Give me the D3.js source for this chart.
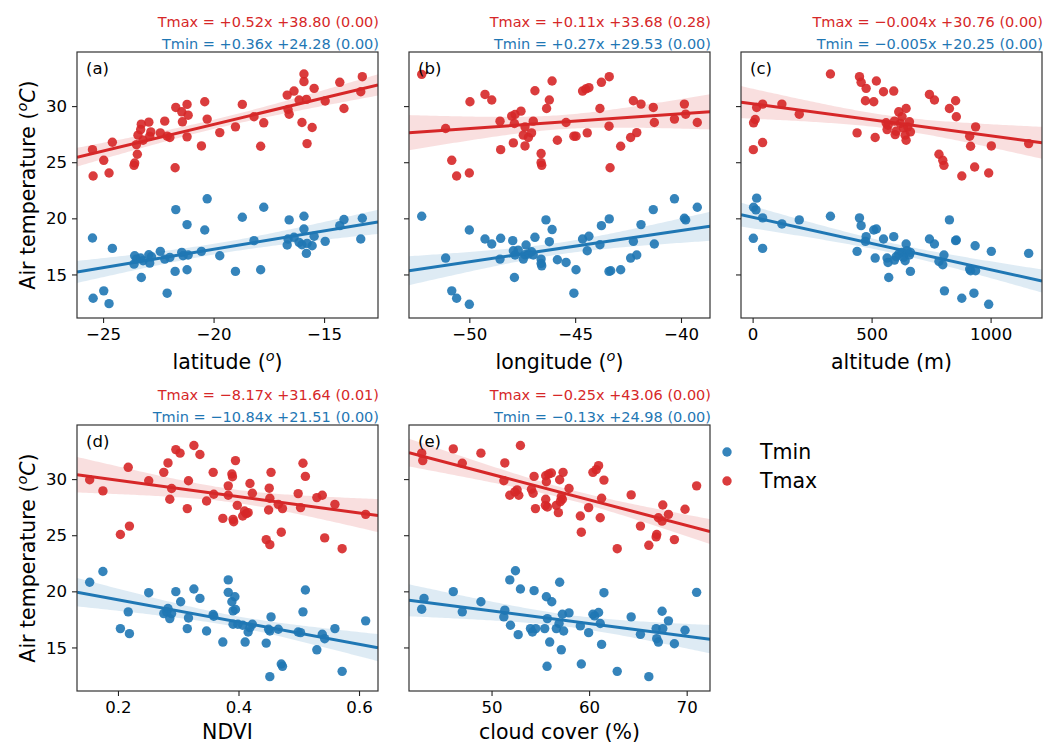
<!DOCTYPE html>
<html><head><meta charset="utf-8">
<script src="https://cdn.jsdelivr.net/npm/d3@7"></script>
<style>body{margin:0;background:#fff}svg{display:block}text{font-family:"DejaVu Sans",sans-serif}</style>
</head><body><svg id="c" width="1043" height="744"></svg>
<script>
// ---------- data: [x, temperature] ----------
const latTmax = [[-25.48,26.12],[-25.45,23.77],[-24.97,25.17],[-24.73,24.04],[-24.58,26.78],[-23.60,24.72],[-23.57,24.93],[-23.45,25.71],[-23.49,26.57],[-23.42,27.41],[-23.30,27.91],[-23.27,28.39],[-23.19,26.96],[-22.93,28.57],[-22.89,27.32],[-22.84,27.70],[-22.41,27.61],[-22.21,28.66],[-22.10,27.32],[-21.98,27.20],[-21.74,24.51],[-21.71,29.88],[-21.44,29.49],[-21.41,28.60],[-21.20,30.15],[-21.15,29.19],[-21.20,27.26],[-20.55,26.45],[-20.40,30.39],[-20.29,28.84],[-19.72,27.64],[-19.01,28.15],[-18.70,30.15],[-18.17,29.05],[-17.87,26.42],[-17.73,28.51],[-16.67,30.98],[-16.63,29.70],[-16.58,29.28],[-16.36,31.34],[-16.13,30.54],[-16.00,28.54],[-15.91,32.86],[-15.91,32.18],[-15.80,30.60],[-15.77,26.66],[-15.54,28.09],[-15.45,31.58],[-14.95,30.45],[-14.29,32.12],[-14.10,29.79],[-13.34,31.28],[-13.27,32.62]];
const latTmin = [[-25.48,18.25],[-25.45,12.88],[-24.97,13.54],[-24.73,12.40],[-24.58,17.32],[-23.60,15.92],[-23.57,16.67],[-23.49,16.37],[-23.27,14.73],[-23.31,16.46],[-23.19,16.22],[-22.93,16.76],[-22.89,16.01],[-22.81,16.58],[-22.41,17.06],[-22.21,16.37],[-22.10,13.33],[-21.98,16.52],[-21.74,15.27],[-21.71,20.78],[-21.44,16.97],[-21.38,16.67],[-21.20,19.44],[-21.15,16.73],[-21.20,15.42],[-20.55,17.06],[-20.40,18.96],[-20.29,21.74],[-19.72,16.67],[-19.01,15.27],[-18.70,20.10],[-18.17,18.01],[-17.87,15.42],[-17.73,20.99],[-16.67,17.62],[-16.63,18.16],[-16.58,19.86],[-16.36,18.31],[-16.13,17.86],[-16.00,17.65],[-15.91,20.19],[-15.91,19.05],[-15.80,16.88],[-15.77,17.77],[-15.54,17.56],[-15.45,18.40],[-14.95,17.95],[-14.29,19.35],[-14.10,19.89],[-13.34,18.16],[-13.27,20.01]];
const lonTmax = [[-52.25,32.83],[-51.12,28.00],[-50.83,25.17],[-50.60,23.77],[-50.00,24.04],[-49.97,30.39],[-49.26,31.04],[-48.94,30.54],[-48.55,28.66],[-48.52,26.12],[-48.00,29.11],[-47.92,26.72],[-47.84,29.25],[-47.87,28.45],[-47.56,29.55],[-47.37,28.15],[-47.37,26.45],[-47.45,27.41],[-47.21,27.20],[-47.06,27.61],[-46.98,28.66],[-46.90,31.37],[-46.61,25.77],[-46.61,24.96],[-46.58,24.72],[-46.35,29.79],[-46.22,30.54],[-46.09,32.24],[-45.84,26.96],[-45.43,28.54],[-45.06,27.32],[-44.96,27.32],[-44.43,27.61],[-44.65,31.34],[-44.50,31.52],[-44.35,31.64],[-43.83,29.79],[-43.76,32.12],[-43.40,28.21],[-43.39,32.62],[-43.35,24.51],[-42.85,26.42],[-42.38,27.20],[-42.25,30.48],[-42.09,27.64],[-41.89,30.18],[-41.31,29.88],[-41.26,28.54],[-40.31,28.84],[-39.84,30.18],[-39.78,29.28],[-39.23,28.54]];
const lonTmin = [[-52.25,20.19],[-51.12,16.46],[-50.83,13.54],[-50.60,12.88],[-50.00,18.96],[-50.00,12.34],[-49.26,18.16],[-48.94,17.71],[-48.55,16.37],[-48.52,18.22],[-47.95,18.01],[-47.87,14.73],[-47.92,17.11],[-47.84,16.73],[-47.69,17.17],[-47.45,16.37],[-47.37,16.76],[-47.32,17.62],[-47.21,16.82],[-47.06,17.02],[-46.98,16.73],[-46.90,18.31],[-46.61,16.37],[-46.61,15.98],[-46.58,15.77],[-46.38,19.86],[-46.22,17.92],[-46.09,19.00],[-45.84,16.31],[-45.43,16.07],[-44.96,15.42],[-45.06,13.33],[-44.65,18.16],[-44.43,17.11],[-44.35,18.40],[-43.83,17.65],[-43.76,19.35],[-43.40,15.27],[-43.32,15.33],[-43.39,19.95],[-42.85,15.42],[-42.38,16.46],[-42.25,17.95],[-42.09,16.73],[-41.89,19.44],[-41.31,20.78],[-41.26,17.71],[-40.31,21.74],[-39.84,20.01],[-39.78,19.86],[-39.23,20.99]];
const altTmax = [[3,26.12],[4,28.51],[11,28.81],[17,29.88],[42,30.18],[42,26.75],[123,30.18],[196,29.28],[327,32.86],[439,27.61],[449,32.62],[456,32.12],[477,31.58],[474,30.48],[509,30.39],[515,27.20],[520,32.24],[550,31.28],[561,28.51],[565,27.91],[569,28.30],[593,31.34],[596,28.66],[599,27.46],[603,27.76],[614,29.49],[621,28.45],[628,29.05],[634,28.06],[641,27.41],[645,26.96],[645,29.79],[652,28.15],[659,28.60],[663,27.70],[743,31.04],[764,30.54],[783,25.71],[799,25.17],[804,24.72],[827,29.79],[853,30.48],[856,29.05],[879,23.77],[912,27.32],[916,26.42],[933,24.57],[937,28.15],[992,24.04],[1003,26.45],[1160,26.66]];
const altTmin = [[3,18.22],[4,20.99],[17,21.80],[14,20.75],[42,20.04],[42,17.32],[123,19.50],[196,19.86],[327,20.19],[439,17.06],[449,20.04],[456,19.35],[477,18.37],[474,17.95],[509,18.96],[515,16.46],[520,19.05],[550,18.16],[565,16.46],[569,16.07],[572,14.73],[593,18.37],[596,16.28],[603,16.58],[614,16.82],[628,16.97],[634,16.52],[641,16.22],[645,17.71],[649,17.11],[659,16.73],[663,16.97],[663,15.27],[743,18.16],[764,17.71],[783,16.16],[799,15.86],[804,16.73],[806,13.54],[827,19.86],[853,18.01],[856,18.07],[879,12.88],[912,15.48],[916,15.33],[930,13.33],[935,17.56],[937,15.33],[992,12.34],[1003,17.06],[1160,16.88]];
const ndviTmax = [[0.153,29.94],[0.175,28.95],[0.204,25.06],[0.219,25.81],[0.217,31.05],[0.251,29.85],[0.276,30.60],[0.283,31.44],[0.286,28.20],[0.289,29.16],[0.296,32.63],[0.303,32.31],[0.315,27.37],[0.317,29.85],[0.326,32.99],[0.336,32.19],[0.347,28.05],[0.358,30.60],[0.359,28.65],[0.374,26.50],[0.383,29.40],[0.383,28.56],[0.389,30.45],[0.390,30.21],[0.391,26.41],[0.392,26.20],[0.395,31.65],[0.398,27.66],[0.407,26.71],[0.410,27.16],[0.413,26.92],[0.416,27.01],[0.419,29.61],[0.423,28.74],[0.446,24.61],[0.450,27.25],[0.452,24.16],[0.451,29.19],[0.452,28.29],[0.454,30.60],[0.466,27.75],[0.471,25.27],[0.473,27.37],[0.499,28.71],[0.503,27.46],[0.507,31.41],[0.511,30.24],[0.530,28.35],[0.539,28.56],[0.543,24.76],[0.560,27.75],[0.572,23.80],[0.611,26.86]];
const ndviTmin = [[0.153,20.81],[0.175,21.77],[0.204,16.68],[0.217,18.17],[0.219,16.23],[0.251,19.88],[0.276,18.02],[0.281,18.17],[0.283,18.47],[0.286,17.57],[0.289,18.02],[0.296,19.97],[0.304,19.07],[0.315,16.68],[0.317,17.63],[0.326,20.21],[0.336,19.37],[0.347,16.47],[0.358,17.93],[0.359,17.78],[0.374,15.48],[0.383,21.02],[0.383,19.91],[0.389,19.07],[0.391,18.26],[0.391,17.07],[0.394,19.52],[0.395,18.38],[0.399,17.07],[0.407,16.98],[0.411,15.48],[0.416,16.38],[0.419,16.77],[0.423,17.07],[0.446,15.39],[0.450,16.62],[0.452,16.47],[0.452,12.40],[0.454,17.72],[0.466,16.62],[0.471,13.53],[0.473,13.32],[0.499,16.38],[0.503,16.32],[0.507,18.17],[0.511,20.12],[0.530,14.79],[0.539,16.17],[0.543,15.78],[0.560,16.68],[0.572,12.87],[0.611,17.37]];
const cloudTmax = [[42.84,32.31],[42.95,31.65],[46.08,32.69],[47.00,31.41],[48.91,32.31],[51.26,29.85],[51.36,31.44],[51.87,28.56],[52.39,28.86],[52.62,29.04],[52.79,28.56],[52.96,32.99],[54.09,29.10],[54.26,28.74],[54.36,30.24],[54.50,27.37],[55.52,27.66],[55.55,30.30],[55.55,28.20],[55.62,29.76],[55.72,27.51],[55.86,30.45],[56.13,30.54],[56.64,27.66],[56.85,27.01],[56.98,29.94],[57.05,27.99],[57.15,28.41],[57.26,28.20],[57.33,30.60],[57.94,29.16],[59.10,26.71],[59.20,25.27],[59.95,27.46],[60.39,30.60],[60.73,30.84],[60.97,31.20],[61.14,26.56],[61.28,28.29],[61.52,29.91],[62.88,23.80],[64.31,28.59],[65.26,25.81],[66.12,24.10],[66.87,24.85],[66.93,25.06],[67.10,26.56],[67.48,26.26],[67.55,27.69],[68.13,26.86],[68.74,24.61],[69.83,27.31],[71.02,29.40]];
const cloudTmin = [[42.84,18.41],[43.08,19.37],[46.08,19.97],[47.00,18.17],[48.91,19.07],[51.26,17.72],[51.36,18.32],[51.87,21.02],[51.94,16.98],[52.45,21.83],[52.73,16.14],[52.96,20.21],[53.99,16.68],[54.19,16.38],[54.36,20.06],[54.53,16.68],[55.45,16.68],[55.62,19.52],[55.69,13.32],[55.72,17.57],[55.96,15.48],[56.17,19.07],[56.64,16.68],[56.92,17.13],[56.98,20.81],[57.15,14.79],[57.26,17.96],[57.39,16.47],[57.94,18.08],[59.10,16.92],[59.20,13.53],[59.95,16.32],[60.39,17.96],[60.56,17.81],[60.97,18.11],[61.14,17.13],[61.28,15.27],[61.52,19.88],[62.88,12.87],[64.31,17.72],[65.26,16.17],[66.12,12.40],[66.87,16.68],[66.93,15.78],[67.10,15.48],[67.48,18.23],[67.55,16.68],[68.13,17.37],[68.74,15.33],[69.83,16.53],[71.02,19.91]];

const panelLabels = ["(a)","(b)","(c)","(d)","(e)"];
const xLabels = [["latitude (","o",")"],["longitude (","o",")"],["altitude (m)"],["NDVI"],["cloud cover (%)"]];
const xTicks = [[-25,-20,-15],[-50,-45,-40],[0,500,1000],[0.2,0.4,0.6],[50,60,70]];
const xDomains = [[-26.18,-12.56],[-52.85,-38.63],[-48.8,1216],[0.132,0.6315],[41.54,72.39]];
const yTicks = [15,20,25,30];
const yDomain = [11.12,34.82];
const eqTmax = ["Tmax = +0.52x +38.80 (0.00)","Tmax = +0.11x +33.68 (0.28)","Tmax = \u22120.004x +30.76 (0.00)","Tmax = \u22128.17x +31.64 (0.01)","Tmax = \u22120.25x +43.06 (0.00)"];
const eqTmin = ["Tmin = +0.36x +24.28 (0.00)","Tmin = +0.27x +29.53 (0.00)","Tmin = \u22120.005x +20.25 (0.00)","Tmin = \u221210.84x +21.51 (0.00)","Tmin = \u22120.13x +24.98 (0.00)"];
const seriesNames = ["Tmin","Tmax"];
const colors = {Tmin:"#1f77b4", Tmax:"#d62728"};

const tmaxSets = [latTmax, lonTmax, altTmax, ndviTmax, cloudTmax];
const tminSets = [latTmin, lonTmin, altTmin, ndviTmin, cloudTmin];

// ---------- layout ----------
const colX = [77, 409, 741], rowY = [52, 425], W = 301, H = 266;
const svg = d3.select("#c");
const fmt = v => (v < 0 ? "\u2212" : "") + Math.abs(v);
const DOT_R = 4.7, DOT_OP = 0.9;

function fit(data){
  const n = data.length, xm = d3.mean(data, d=>d[0]), ym = d3.mean(data, d=>d[1]);
  let sxx=0, sxy=0; data.forEach(d=>{sxx+=(d[0]-xm)**2; sxy+=(d[0]-xm)*(d[1]-ym);});
  const b = sxy/sxx, a = ym - b*xm;
  let sse=0; data.forEach(d=>{sse+=(d[1]-a-b*d[0])**2;});
  const s = Math.sqrt(sse/(n-2));
  return {a,b,xm,sxx,s,n};
}

for (let i=0;i<5;i++){
  const r = Math.floor(i/3), c = i%3;
  const g = svg.append("g").attr("transform",`translate(${colX[c]},${rowY[r]})`);
  const x = d3.scaleLinear().domain(xDomains[i]).range([0,W]);
  const y = d3.scaleLinear().domain(yDomain).range([H,0]);
  const clipId = "clip"+i;
  g.append("clipPath").attr("id",clipId).append("rect").attr("width",W).attr("height",H);
  const plot = g.append("g").attr("clip-path",`url(#${clipId})`);

  [["Tmin", tminSets[i]],["Tmax", tmaxSets[i]]].forEach(([name,data])=>{
    const col = colors[name];
    plot.append("g").selectAll("circle").data(data).join("circle")
      .attr("cx",d=>x(d[0])).attr("cy",d=>y(d[1])).attr("r",DOT_R)
      .attr("fill",col).attr("fill-opacity",DOT_OP);
    const f = fit(data);
    const xs = d3.range(0,101).map(k=>xDomains[i][0]+(xDomains[i][1]-xDomains[i][0])*k/100);
    const band = xs.map(xv=>{
      const yh = f.a+f.b*xv;
      const se = f.s*Math.sqrt(1/f.n + (xv-f.xm)**2/f.sxx);
      return [xv, yh-2.0*se, yh+2.0*se];
    });
    plot.append("path").datum(band)
      .attr("d", d3.area().x(d=>x(d[0])).y0(d=>y(d[1])).y1(d=>y(d[2])))
      .attr("fill",col).attr("fill-opacity",0.15);
    plot.append("path").datum(xDomains[i])
      .attr("d", d3.line().x(d=>x(d)).y(d=>y(f.a+f.b*d)))
      .attr("stroke",col).attr("stroke-width",3).attr("fill","none");
  });

  // frame
  g.append("rect").attr("width",W).attr("height",H).attr("fill","none")
    .attr("stroke","#333").attr("stroke-width",1.2);

  // x axis
  const xa = g.append("g").attr("transform",`translate(0,${H})`)
    .call(d3.axisBottom(x).tickValues(xTicks[i]).tickFormat(fmt).tickSize(5).tickPadding(5));
  xa.select(".domain").remove();
  xa.selectAll("line").attr("stroke","#222").attr("stroke-width",1.1);
  xa.selectAll("text").attr("font-size",16.6).attr("fill","#000").attr("font-family","DejaVu Sans");

  const ya = g.append("g").call(d3.axisLeft(y).tickValues(yTicks).tickFormat(c===0?fmt:()=>"").tickSize(5).tickPadding(5));
  ya.select(".domain").remove();
  ya.selectAll("line").attr("stroke","#222").attr("stroke-width",1.1);
  ya.selectAll("text").attr("font-size",16.6).attr("fill","#000").attr("font-family","DejaVu Sans").attr("dy","0.34em");

  // x label
  const xl = g.append("text").attr("x",W/2).attr("y",H+(r===0?51:48)).attr("text-anchor","middle")
    .attr("font-size",20.5).attr("fill","#000");
  xl.append("tspan").text(xLabels[i][0]);
  if (xLabels[i].length>1){
    xl.append("tspan").text(xLabels[i][1]).attr("font-style","italic").attr("font-size",14.5).attr("dy",-8);
    xl.append("tspan").text(xLabels[i][2]).attr("dy",8);
  }

  // panel label
  g.append("text").attr("x",9).attr("y",22).attr("font-size",16.5).attr("fill","#000").text(panelLabels[i]);

  // equations
  g.append("text").attr("x",W+1).attr("y",-25).attr("text-anchor","end").attr("font-size",14.5)
    .attr("fill",colors.Tmax).text(eqTmax[i]);
  g.append("text").attr("x",W+1).attr("y",-3).attr("text-anchor","end").attr("font-size",14.5)
    .attr("fill",colors.Tmin).text(eqTmin[i]);

  if (c===0){
    const yl = g.append("text").attr("transform",`translate(-42,${H/2}) rotate(-90)`)
      .attr("text-anchor","middle").attr("font-size",20.5).attr("fill","#000");
    yl.append("tspan").text("Air temperature (");
    yl.append("tspan").text("o").attr("font-style","italic").attr("font-size",14.5).attr("dy",-8);
    yl.append("tspan").text("C").attr("font-style","italic").attr("dy",8);
    yl.append("tspan").text(")");
  }
}

// legend
const lg = svg.append("g").attr("transform","translate(727,452)");
seriesNames.forEach((name,k)=>{
  lg.append("circle").attr("cx",0).attr("cy",k*29).attr("r",DOT_R).attr("fill",colors[name]).attr("fill-opacity",DOT_OP);
  lg.append("text").attr("x",33).attr("y",k*29+7).attr("font-size",20.5).attr("fill","#000").text(name);
});
</script></body></html>
